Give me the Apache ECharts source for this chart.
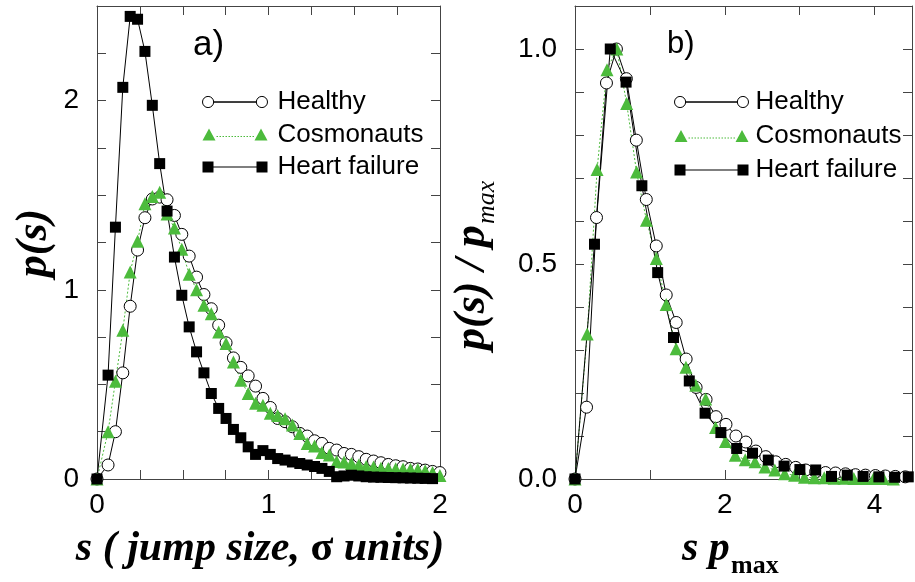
<!DOCTYPE html>
<html>
<head>
<meta charset="utf-8">
<script src="https://cdn.jsdelivr.net/npm/echarts@6/dist/echarts.min.js"></script>
<style>
html,body{margin:0;padding:0;background:#fff;}
#chart{width:915px;height:582px;}
</style>
</head>
<body>
<div id="chart"></div>
<script>
// ---------- Panel a): p(s) vs s ----------
const sLeft = [0, 0.0645, 0.1075, 0.1505, 0.1935, 0.2365, 0.2795, 0.3225, 0.3655, 0.4085, 0.4515, 0.4945, 0.5375, 0.5805, 0.6235, 0.6665, 0.7095, 0.7525, 0.7955, 0.8385, 0.8815, 0.9245, 0.9675, 1.0105, 1.0535, 1.0965, 1.1395, 1.1825, 1.2255, 1.2685, 1.3115, 1.3545, 1.3975, 1.4405, 1.4835, 1.5265, 1.5695, 1.6125, 1.6555, 1.6985, 1.7415, 1.7845, 1.8275, 1.8705, 1.9135, 1.9565, 1.9995];
const healthyP = [0, 0.074, 0.25, 0.561, 0.913, 1.21, 1.381, 1.48, 1.49, 1.476, 1.393, 1.293, 1.178, 1.067, 0.975, 0.90, 0.813, 0.72, 0.64, 0.59, 0.545, 0.491, 0.426, 0.378, 0.32, 0.303, 0.276, 0.241, 0.227, 0.202, 0.188, 0.162, 0.153, 0.135, 0.13, 0.118, 0.104, 0.095, 0.086, 0.077, 0.07, 0.065, 0.056, 0.053, 0.047, 0.04, 0.034];
const cosmoP = [0, 0.25, 0.517, 0.786, 1.094, 1.256, 1.455, 1.493, 1.516, 1.40, 1.326, 1.214, 1.082, 1.0, 0.918, 0.874, 0.777, 0.716, 0.619, 0.522, 0.452, 0.40, 0.39, 0.347, 0.335, 0.318, 0.285, 0.241, 0.188, 0.175, 0.14, 0.127, 0.092, 0.09, 0.082, 0.074, 0.066, 0.064, 0.057, 0.055, 0.054, 0.053, 0.052, 0.05, 0.044, 0.034, 0.018];
const heartP = [0, 0.549, 1.331, 2.07, 2.445, 2.43, 2.26, 1.975, 1.667, 1.416, 1.173, 0.971, 0.804, 0.672, 0.561, 0.452, 0.373, 0.32, 0.262, 0.218, 0.17, 0.13, 0.15, 0.13, 0.108, 0.1, 0.09, 0.082, 0.074, 0.066, 0.056, 0.04, 0.012, 0.016, 0.02, 0.016, 0.012, 0.01, 0.009, 0.008, 0.007, 0.006, 0.005, 0.004, 0.003, 0.002];

// ---------- Panel b): p(s)/pmax vs s*pmax ----------
const spHealthy = [0, 0.154, 0.287, 0.42, 0.553, 0.686, 0.819, 0.952, 1.085, 1.218, 1.351, 1.484, 1.617, 1.75, 1.883, 2.016, 2.149, 2.282, 2.415, 2.548, 2.681, 2.814, 2.947, 3.08, 3.213, 3.346, 3.479, 3.612, 3.745, 3.878, 4.011, 4.144, 4.277, 4.41];
const rHealthy = [0, 0.167, 0.608, 0.921, 1.0, 0.931, 0.788, 0.65, 0.542, 0.428, 0.364, 0.279, 0.213, 0.185, 0.145, 0.127, 0.1, 0.086, 0.065, 0.052, 0.04, 0.034, 0.027, 0.021, 0.017, 0.015, 0.014, 0.012, 0.01, 0.009, 0.008, 0.007, 0.006, 0.005];
const spCosmo = [0, 0.163, 0.295, 0.427, 0.558, 0.69, 0.822, 0.954, 1.086, 1.218, 1.35, 1.481, 1.613, 1.745, 1.877, 2.009, 2.141, 2.273, 2.404, 2.536, 2.668, 2.8, 2.932, 3.064, 3.196, 3.328, 3.46, 3.592, 3.723, 3.855, 3.987, 4.119, 4.251];
const rCosmo = [0, 0.337, 0.72, 0.952, 1.0, 0.873, 0.714, 0.602, 0.513, 0.406, 0.303, 0.26, 0.218, 0.186, 0.12, 0.087, 0.055, 0.045, 0.04, 0.028, 0.021, 0.012, 0.009, 0.004, 0.003, 0.003, 0.002, 0.002, 0.001, 0.001, 0.001, 0.001, 0];
const spHeart = [0, 0.26, 0.471, 0.682, 0.893, 1.104, 1.315, 1.526, 1.737, 1.948, 2.159, 2.37, 2.581, 2.792, 3.003, 3.214, 3.425, 3.636, 3.847, 4.058, 4.269, 4.45];
const rHeart = [0, 0.546, 1.0, 0.923, 0.682, 0.48, 0.329, 0.228, 0.153, 0.108, 0.071, 0.06, 0.044, 0.03, 0.022, 0.021, 0.006, 0.009, 0.006, 0.005, 0.004, 0.005];

const seriesNames = ['Healthy', 'Cosmonauts', 'Heart failure'];
const xTicksLeft = [0, 1, 2];
const yTicksLeft = [0, 1, 2];
const xTicksRight = [0, 2, 4];
const yTicksRight = ['0.0', '0.5', '1.0'];

const GREEN = '#4cbb3c';
const AX = '#444';
const SANS = '"Liberation Sans", Arial, sans-serif';
const SERIF = '"Liberation Serif", "Times New Roman", serif';

const zip = (xs, ys) => ys.map((y, i) => [xs[i], y]);

function styleFor(name) {
  if (name === 'Healthy') return {
    symbol: 'circle', symbolSize: 12,
    itemStyle: {color: '#fff', borderColor: '#000', borderWidth: 1},
    lineStyle: {color: '#000', width: 1}
  };
  if (name === 'Cosmonauts') return {
    symbol: 'triangle', symbolSize: 13,
    itemStyle: {color: GREEN, borderWidth: 0},
    lineStyle: {color: GREEN, width: 1, type: [2, 2]}
  };
  return {
    symbol: 'rect', symbolSize: 11,
    itemStyle: {color: '#000', borderWidth: 0},
    lineStyle: {color: '#000', width: 1}
  };
}

function mk(name, data, gi) {
  return Object.assign({
    type: 'line', name: name, data: data,
    xAxisIndex: gi * 2, yAxisIndex: gi * 2,
    showAllSymbol: true, clip: false, animation: false
  }, styleFor(name));
}

function xAx(gi, pos, min, max, interval, fmt) {
  return {
    type: 'value', gridIndex: gi, position: pos, min: min, max: max, interval: interval,
    axisLine: {show: true, onZero: false, lineStyle: {color: AX, width: 1}},
    axisTick: {show: true, inside: true, length: 9, lineStyle: {color: AX, width: 1}},
    axisLabel: {show: !!fmt, formatter: fmt, fontSize: 28, color: '#000', fontFamily: SANS, margin: 12},
    splitLine: {show: false}
  };
}
function yAx(gi, pos, min, max, interval, fmt) {
  return {
    type: 'value', gridIndex: gi, position: pos, min: min, max: max, interval: interval,
    axisLine: {show: true, onZero: false, lineStyle: {color: AX, width: 1}},
    axisTick: {show: true, inside: true, length: 9, lineStyle: {color: AX, width: 1}},
    axisLabel: {show: !!fmt, formatter: fmt, fontSize: 28, color: '#000', fontFamily: SANS, margin: 18},
    splitLine: {show: false}
  };
}

const near = (v, list) => list.some(t => Math.abs(v - Number(t)) < 1e-6);
const fmtXL = v => near(v, xTicksLeft) ? String(Math.round(v)) : '';
const fmtYL = v => near(v, yTicksLeft) ? String(Math.round(v)) : '';
const fmtXR = v => near(v, xTicksRight) ? String(Math.round(v)) : '';
const fmtYR = v => { const i = yTicksRight.findIndex(t => Math.abs(v - Number(t)) < 1e-6); return i >= 0 ? yTicksRight[i] : ''; };

// legend icons: marker at both ends of a short line (icon artwork, width W, height 12)
function iconCircle(W) {
  const r = 5.5, c1 = 6, c2 = W - 6;
  return 'path://M' + (c1 - r) + ' 6A' + r + ' ' + r + ' 0 1 1 ' + (c1 + r) + ' 6A' + r + ' ' + r + ' 0 1 1 ' + (c1 - r) + ' 6Z' +
    'M' + (c2 - r) + ' 6A' + r + ' ' + r + ' 0 1 1 ' + (c2 + r) + ' 6A' + r + ' ' + r + ' 0 1 1 ' + (c2 - r) + ' 6Z' +
    'M' + (c1 + r) + ' 6L' + (c2 - r) + ' 6L' + (c2 - r) + ' 6.02L' + (c1 + r) + ' 6.02Z';
}
function iconTriangle(W) {
  let p = 'path://M0 12L6.5 0L13 12Z' + 'M' + (W - 13) + ' 12L' + (W - 6.5) + ' 0L' + W + ' 12Z';
  for (let x = 14; x + 1.5 < W - 13; x += 3) p += 'M' + x + ' 7.5h1.5v1h-1.5Z';
  return p;
}
function iconRect(W) {
  return 'path://M0 0.5h11v11h-11Z' + 'M' + (W - 11) + ' 0.5h11v11h-11Z' + 'M11 5.5h' + (W - 22) + 'v1h-' + (W - 22) + 'Z';
}
function legendData(W) {
  return [
    {name: seriesNames[0], icon: iconCircle(W), itemStyle: {color: '#fff', borderColor: '#000', borderWidth: 1}},
    {name: seriesNames[1], icon: iconTriangle(W), itemStyle: {color: GREEN, borderWidth: 0}},
    {name: seriesNames[2], icon: iconRect(W), itemStyle: {color: '#000', borderWidth: 0}}
  ];
}

const chart = echarts.init(document.getElementById('chart'), null, {renderer: 'canvas'});
const legendBase = {
  orient: 'vertical', selectedMode: false, itemHeight: 12,
  textStyle: {fontSize: 26, fontFamily: SANS, color: '#000'}
};
const TI = 'italic bold 42px ' + SERIF;
chart.setOption({
  animation: false,
  backgroundColor: '#fff',
  grid: [
    {left: 97, top: 6, width: 343, height: 473},
    {left: 575, top: 6, width: 341, height: 473}
  ],
  xAxis: [
    xAx(0, 'bottom', 0, 2, 0.25, fmtXL),
    xAx(0, 'top', 0, 2, 0.25, null),
    xAx(1, 'bottom', 0, 4.5, 1, fmtXR),
    xAx(1, 'top', 0, 4.5, 1, null)
  ],
  yAxis: [
    yAx(0, 'left', 0, 2.5, 0.25, fmtYL),
    yAx(0, 'right', 0, 2.5, 0.25, null),
    yAx(1, 'left', 0, 1.1, 0.1, fmtYR),
    yAx(1, 'right', 0, 1.1, 0.1, null)
  ],
  legend: [
    Object.assign({}, legendBase, {left: 197, top: 84, itemWidth: 65, itemGap: 6.5, data: legendData(65),
      textStyle: Object.assign({}, legendBase.textStyle, {padding: [0, 0, 0, 5]})}),
    Object.assign({}, legendBase, {left: 669, top: 84, itemWidth: 74, itemGap: 8, data: legendData(74),
      textStyle: Object.assign({}, legendBase.textStyle, {padding: [0, 0, 0, 2]})})
  ],
  series: [
    mk('Healthy', zip(sLeft, healthyP), 0),
    mk('Cosmonauts', zip(sLeft, cosmoP), 0),
    mk('Heart failure', zip(sLeft, heartP), 0),
    mk('Healthy', zip(spHealthy, rHealthy), 1),
    mk('Cosmonauts', zip(spCosmo, rCosmo), 1),
    mk('Heart failure', zip(spHeart, rHeart), 1)
  ],
  graphic: [
    {type: 'text', x: 193, y: 45, style: {text: 'a)', font: '35px ' + SANS, fill: '#000', textAlign: 'left', textVerticalAlign: 'middle'}},
    {type: 'text', x: 667, y: 44, style: {text: 'b)', font: '31px ' + SANS, fill: '#000', textAlign: 'left', textVerticalAlign: 'middle'}},
    {type: 'text', x: 260, y: 549, style: {
      text: '{a|s ( jump size, }{b|\u03c3}{a| units)}', fill: '#000', textAlign: 'center', textVerticalAlign: 'middle',
      rich: {
        a: {fontStyle: 'italic', fontWeight: 'bold', fontSize: 42, fontFamily: SERIF, fill: '#000'},
        b: {fontStyle: 'normal', fontWeight: 'bold', fontSize: 42, fontFamily: SERIF, fill: '#000'}
      }}},
    {type: 'text', x: 682, y: 549, style: {text: 's p', font: TI, fill: '#000', textAlign: 'left', textVerticalAlign: 'middle'}},
    {type: 'text', x: 731, y: 566, style: {text: 'max', font: 'bold 26px ' + SERIF, fill: '#000', textAlign: 'left', textVerticalAlign: 'middle'}},
    {type: 'text', x: 35, y: 243, rotation: Math.PI / 2, style: {text: 'p(s)', font: 'italic bold 44px ' + SERIF, fill: '#000', textAlign: 'center', textVerticalAlign: 'middle'}},
    {type: 'text', x: 473, y: 350, rotation: Math.PI / 2, style: {text: 'p(s) / p', font: 'italic bold 44px ' + SERIF, fill: '#000', textAlign: 'left', textVerticalAlign: 'middle'}},
    {type: 'text', x: 487, y: 224, rotation: Math.PI / 2, style: {text: 'max', font: 'italic 26px ' + SERIF, fill: '#000', textAlign: 'left', textVerticalAlign: 'middle'}}
  ]
});
</script>
</body>
</html>
